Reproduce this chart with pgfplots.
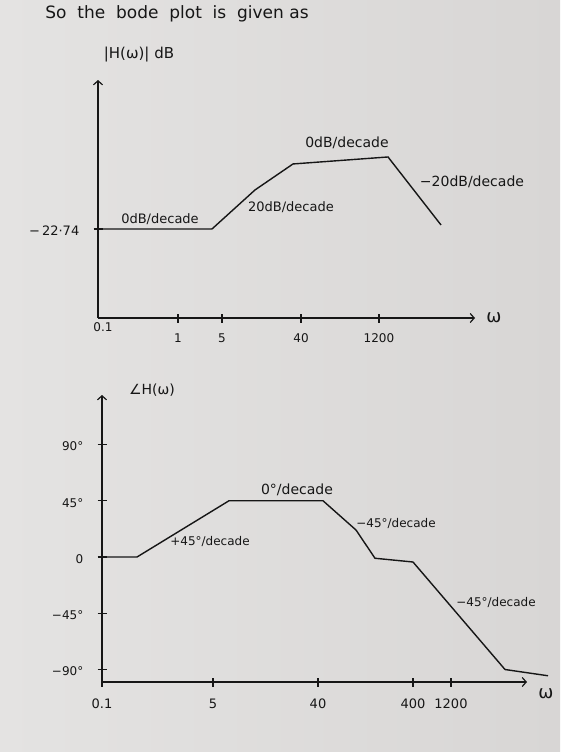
\documentclass[border=0pt]{standalone}
\usepackage{fontspec}
\setmainfont{DejaVu Sans}
\usepackage{pgfplots}
\pgfplotsset{compat=1.18}
\usetikzlibrary{arrows.meta}
\definecolor{paperL}{RGB}{228,227,226}
\definecolor{paperR}{RGB}{216,214,213}
\definecolor{ink}{RGB}{22,22,22}
\newcommand{\fs}[1]{\fontsize{#1}{#1}\selectfont}
\begin{document}
\begin{tikzpicture}
\shade[left color=paperL,right color=paperR] (0,0) rectangle (560pt,-752pt);
\path[use as bounding box] (0,0) rectangle (560pt,-752pt);

% ---------- magnitude plot ----------
\begin{axis}[
  at={(98pt,-318pt)}, anchor=south west,
  scale only axis, width=377pt, height=238pt,
  xmin=0, xmax=377, ymin=-45, ymax=14.5,
  axis lines=left,
  axis line style={ink, line width=1.2pt, -{Straight Barb[length=4pt,width=9pt]}},
  xtick={80,124,203,281}, xticklabels={1,5,40,1200},
  ytick={-22.74}, yticklabels={−\,22·74},
  tick align=center, major tick length=9pt,
  major tick style={ink, line width=1.1pt},
  xticklabel style={font=\fs{12}, text=ink, anchor=north, inner sep=0pt, yshift=-11pt},
  yticklabel style={font=\fs{13}, text=ink, anchor=east, inner sep=0pt, xshift=-14pt, yshift=-2pt},
  clip=false,
]
\addplot[ink, line width=1.4pt] coordinates {
  (0,-22.74) (114,-22.74) (157,-12.99) (195,-6.49) (290,-4.74) (343,-21.74)
};
\node[font=\fs{12}, text=ink, anchor=north, inner sep=0pt] at (axis cs:5,-45) [yshift=-4pt] {0.1};
\end{axis}

% ---------- phase plot ----------
\begin{axis}[
  at={(102pt,-682pt)}, anchor=south west,
  scale only axis, width=425pt, height=287pt,
  xmin=0, xmax=425, ymin=-100, ymax=129.6,
  axis lines=left,
  axis line style={ink, line width=1.2pt, -{Straight Barb[length=4pt,width=9pt]}},
  xtick={0,111,216,311,349}, xticklabels={0.1,5,40,400,1200},
  ytick={-90,-45,0,45,90}, yticklabels={−90°,−45°,0,45°,90°},
  tick align=center, major tick length=9pt,
  major tick style={ink, line width=1.1pt},
  xticklabel style={font=\fs{13}, text=ink, anchor=north, inner sep=0pt, yshift=-12pt},
  yticklabel style={font=\fs{12}, text=ink, anchor=east, inner sep=0pt, xshift=-14pt, yshift=-2pt},
  clip=false,
]
\addplot[ink, line width=1.4pt] coordinates {
  (0,0) (35,0) (127,45) (221,45) (254,21.6) (273,-1) (311,-4) (403,-90) (446,-95)
};
\end{axis}

% ---------- text ----------
\begin{scope}[x=1pt,y=-1pt, every node/.style={text=ink, inner sep=0pt}]
\node[font=\fs{17}] at (177,14) {So\ \ the\ \ bode\ \ plot\ \ is\ \ given as};
\node[font=\fs{15}] at (139,55) {|H(ω)| dB};
\node[font=\fs{18}] at (494,318) {ω};
\node[font=\fs{13}] at (160,219) {0dB/decade};
\node[font=\fs{13}] at (291,207) {20dB/decade};
\node[font=\fs{14}] at (347,143) {0dB/decade};
\node[font=\fs{14}] at (472,182) {−20dB/decade};
\node[font=\fs{14}] at (152,390) {∠H(ω)};
\node[font=\fs{18}] at (546,694) {ω};
\node[font=\fs{14}] at (297,490) {0°/decade};
\node[font=\fs{12}] at (210,541) {+45°/decade};
\node[font=\fs{12}] at (396,523) {−45°/decade};
\node[font=\fs{12}] at (496,602) {−45°/decade};
\end{scope}
\end{tikzpicture}
\end{document}
